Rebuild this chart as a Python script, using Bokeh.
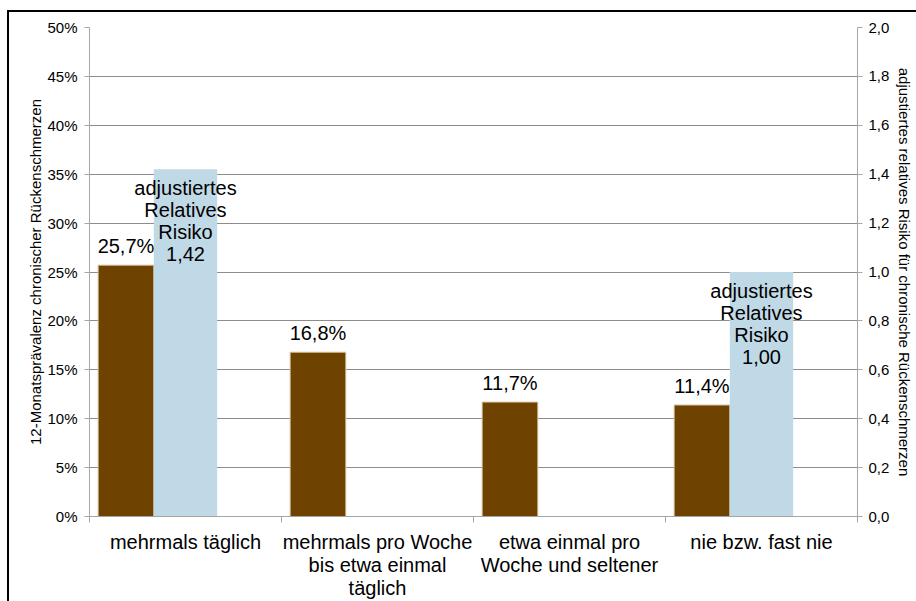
from bokeh.plotting import figure
from bokeh.models import (Range1d, LinearAxis, FixedTicker, CustomJSTickFormatter,
                          InlineStyleSheet, ColumnDataSource)
from bokeh.core.properties import value
from bokeh.embed import file_html
from bokeh.resources import INLINE

# ---- data ----
categories = ["mehrmals täglich",
              "mehrmals pro Woche\nbis etwa einmal\ntäglich",
              "etwa einmal pro\nWoche und seltener",
              "nie bzw. fast nie"]
prevalence = [25.7, 16.8, 11.7, 11.4]          # % (left axis)
rr_categories = [0, 3]                           # indices of categories with a relative-risk bar
rr_values = [1.42, 1.00]                         # adjusted relative risk (right axis)
left_ticks = [0, 5, 10, 15, 20, 25, 30, 35, 40, 45, 50]
right_ticks = [0.0, 0.2, 0.4, 0.6, 0.8, 1.0, 1.2, 1.4, 1.6, 1.8, 2.0]

FONT = "Liberation Sans"
BROWN = "#6E4300"
BLUE = "#C0D9E6"
GRID = "#8C8C8C"
AXIS = "#A6A6A6"

p = figure(width=916, height=601, output_backend="svg", toolbar_location=None,
           x_range=Range1d(0, len(categories)), y_range=Range1d(0, 50),
           min_border_left=89, min_border_right=59, min_border_top=27, min_border_bottom=85,
           x_axis_location=None, y_axis_location=None)
p.extra_y_ranges = {"rr": Range1d(0, 2)}
p.outline_line_color = None
p.background_fill_color = "white"
p.border_fill_color = "white"

# bars
n = len(categories)
brown_src = ColumnDataSource(dict(
    x=[i + 0.19 for i in range(n)], top=prevalence,
    lab=[("%.1f" % v).replace(".", ",") + "%" for v in prevalence]))
blue_src = ColumnDataSource(dict(
    x=[i + 0.5 for i in rr_categories], top=rr_values,
    lab=["adjustiertes\nRelatives\nRisiko\n" + ("%.2f" % v).replace(".", ",") for v in rr_values]))

p.vbar(x="x", top="top", width=0.29, bottom=0, source=brown_src,
       fill_color=BROWN, line_color="#D8C3A0", line_width=1)
p.vbar(x="x", top="top", width=0.33, bottom=0, source=blue_src, y_range_name="rr",
       fill_color=BLUE, line_color=None)

p.text(x="x", y="top", text="lab", source=brown_src, text_align="center",
       text_baseline="bottom", y_offset=-8, text_font=value(FONT),
       text_font_size="20px", text_color="black")
p.text(x="x", y="top", text="lab", source=blue_src, y_range_name="rr",
       text_align="center", text_baseline="top", y_offset=8, text_font=value(FONT),
       text_font_size="20px", text_line_height=1.0, text_color="black")

# grid
p.xgrid.visible = False
p.ygrid.ticker = FixedTicker(ticks=left_ticks)
p.ygrid.grid_line_color = GRID
p.ygrid.grid_line_width = 1

# left axis
yl = LinearAxis(ticker=FixedTicker(ticks=left_ticks),
                formatter=CustomJSTickFormatter(code="return tick + '%';"),
                axis_label="12-Monatsprävalenz chronischer Rückenschmerzen")
# right axis
yr = LinearAxis(y_range_name="rr", ticker=FixedTicker(ticks=right_ticks),
                formatter=CustomJSTickFormatter(code="return tick.toFixed(1).replace('.', ',');"),
                axis_label="adjustiertes relatives Risiko für chronische Rückenschmerzen")
for ax, st, lst in ((yl, 7, 0), (yr, 6, 4)):
    ax.axis_line_color = AXIS
    ax.major_tick_line_color = AXIS
    ax.major_tick_out = 5
    ax.major_tick_in = 0
    ax.minor_tick_line_color = None
    ax.major_label_text_font = FONT
    ax.major_label_text_font_size = "15px"
    ax.major_label_text_color = "black"
    ax.major_label_standoff = st
    ax.axis_label_text_font = FONT
    ax.axis_label_text_font_size = "15px"
    ax.axis_label_text_font_style = "normal"
    ax.axis_label_text_color = "black"
    ax.axis_label_standoff = lst
p.add_layout(yl, "left")
p.add_layout(yr, "right")

# bottom axis: ticks at category boundaries, labels at centres
xb = LinearAxis(ticker=FixedTicker(ticks=[i + 0.5 for i in range(n)],
                                   minor_ticks=list(range(n + 1))),
                major_label_overrides={i + 0.5: c for i, c in enumerate(categories)})
xb.axis_line_color = AXIS
xb.major_tick_line_color = None
xb.major_tick_out = 0
xb.major_tick_in = 0
xb.minor_tick_line_color = AXIS
xb.minor_tick_out = 6
xb.minor_tick_in = 0
xb.major_label_text_font = FONT
xb.major_label_text_font_size = "20px"
xb.major_label_text_line_height = 1.05
xb.major_label_text_color = "black"
xb.major_label_standoff = 8
p.add_layout(xb, "below")

# outer chart frame: only its top and left edges lie inside the window
p.stylesheets = [InlineStyleSheet(css="""
:host { position: relative; }
:host::after {
  content: "";
  position: absolute;
  left: 7px; top: 10px; right: 0; bottom: 0;
  border-top: 2.5px solid #000;
  border-left: 2.5px solid #000;
  pointer-events: none;
  z-index: 100;
}
""")]

open("out.html", "w").write(file_html(p, INLINE))
